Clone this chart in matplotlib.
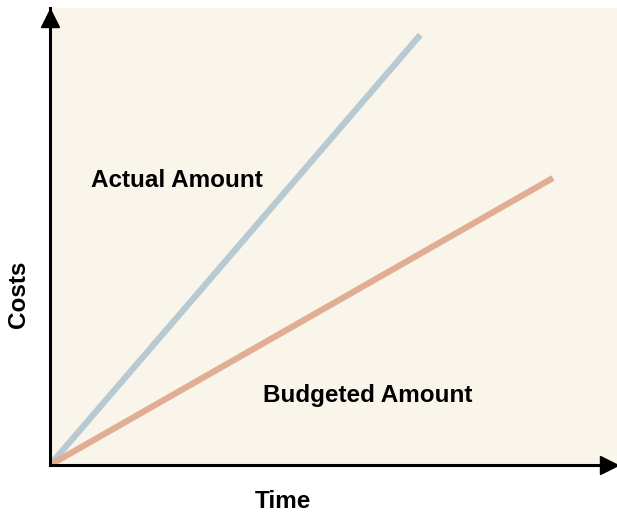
import matplotlib
matplotlib.use("Agg")
import matplotlib.pyplot as plt
from matplotlib.transforms import offset_copy

# Data (arbitrary units: time vs costs)
time_actual = [0, 6.53]
cost_actual = [0, 9.41]
time_budget = [0, 8.87]
cost_budget = [0, 6.28]
labels = ["Actual Amount", "Budgeted Amount"]

W, H = 617, 516
fig = plt.figure(figsize=(W / 100, H / 100), dpi=100)
fig.patch.set_facecolor("white")
ax = fig.add_axes([50 / W, (H - 465) / H, (W - 50) / W, (465 - 8) / H])
ax.set_facecolor("#f9f5eb")
ax.set_xlim(0, 10)
ax.set_ylim(0, 10)

ax.plot(time_actual, cost_actual, color="#b7c9d3", lw=4.5, solid_capstyle="butt")
ax.plot(time_budget, cost_budget, color="#e2ae93", lw=4.5, solid_capstyle="butt")

font = ["Liberation Sans", "DejaVu Sans"]
fs = 17.5
ax.text(0.72, 6.08, labels[0], fontsize=fs, fontweight="bold", family=font,
        ha="left", va="baseline", color="black")
ax.text(5.6, 1.38, labels[1], fontsize=fs, fontweight="bold", family=font,
        ha="center", va="baseline", color="black")

ax.set_xticks([])
ax.set_yticks([])
for s in ["top", "right"]:
    ax.spines[s].set_visible(False)
for s in ["left", "bottom"]:
    ax.spines[s].set_linewidth(2.2)
    ax.spines[s].set_color("black")
ax.spines["bottom"].set_bounds(0, 10 * (608 - 50) / (W - 50))

# arrow heads
tr_up = offset_copy(ax.transAxes, fig=fig, x=0, y=-9.5, units="dots")
ax.plot([0], [1], marker="^", ms=12.5, color="black", transform=tr_up, clip_on=False)
tr_rt = offset_copy(ax.transAxes, fig=fig, x=-8.5, y=0, units="dots")
ax.plot([1], [0], marker=">", ms=12.5, color="black", transform=tr_rt, clip_on=False)

fig.text(18 / W, 1 - 294 / H, "Costs", rotation=90, fontsize=fs, fontweight="bold",
         family=font, ha="center", va="center")
fig.text(283 / W, 1 - 508 / H, "Time", fontsize=fs, fontweight="bold",
         family=font, ha="center", va="baseline")

fig.savefig("out.png", dpi=100)
